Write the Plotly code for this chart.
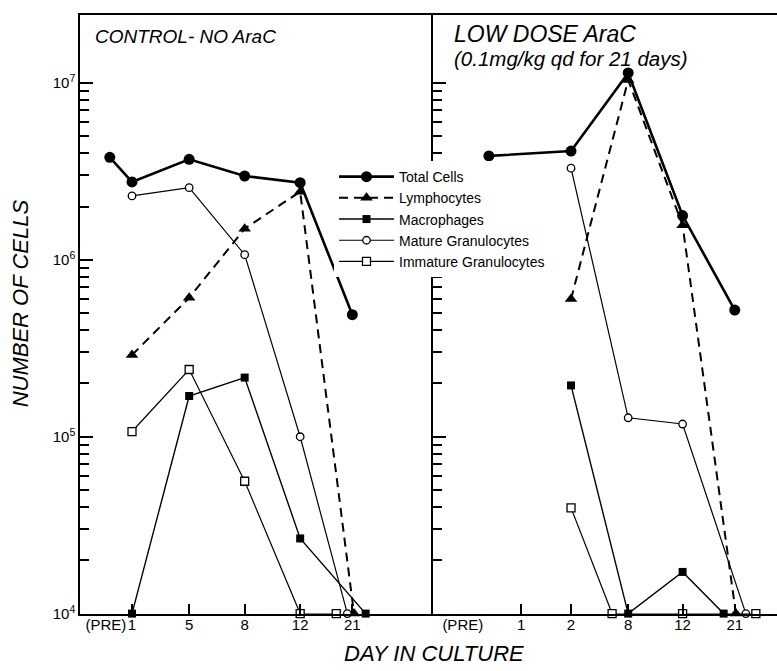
import plotly.graph_objects as go

# ---------------- data ----------------
DAYS_LEFT = ["PRE", "1", "5", "8", "12", "21"]
LEFT_TOTAL = [3.8e6, 2.76e6, 3.7e6, 2.98e6, 2.73e6, 4.9e5]
LEFT_LYMPH = [None, 2.9e5, 6.1e5, 1.5e6, 2.43e6, 1e4]
LEFT_MACRO = [None, 1e4, 1.7e5, 2.16e5, 2.66e4, 1e4]
LEFT_MATURE = [None, 2.3e6, 2.56e6, 1.07e6, 1.0e5, 1e4]
LEFT_IMMATURE = [None, 1.07e5, 2.4e5, 5.6e4, 1e4, 1e4]

DAYS_RIGHT = ["PRE", "1", "2", "8", "12", "21"]
RIGHT_TOTAL = [3.87e6, None, 4.12e6, 1.14e7, 1.78e6, 5.2e5]
RIGHT_LYMPH = [None, None, 6.0e5, 1.04e7, 1.57e6, 1e4]
RIGHT_MACRO = [None, None, 1.95e5, 1e4, 1.72e4, 1e4]
RIGHT_MATURE = [None, None, 3.3e6, 1.28e5, 1.18e5, 1e4]
RIGHT_IMMATURE = [None, None, 3.96e4, 1e4, 1e4, 1e4]

TICK_LABELS_LEFT = ["(PRE)", "1", "5", "8", "12", "21"]
TICK_LABELS_RIGHT = ["(PRE)", "1", "2", "8", "12", "21"]

SERIES_NAMES = ["Total Cells", "Lymphocytes", "Macrophages",
                "Mature Granulocytes", "Immature Granulocytes"]

# ---------------- scale / style ----------------
# non-linear day axis: slot position of each day label
POS_LEFT = {"PRE": 0.53, "1": 1.0, "5": 2.03, "8": 3.03, "12": 4.03, "21": 4.97}
POS_RIGHT = {"PRE": 0.60, "1": 1.65, "2": 2.55, "8": 3.58, "12": 4.56, "21": 5.50}
# small horizontal offsets used in the original to separate coinciding points
SHIFT_LEFT = {0: {"PRE": 0.07}, 1: {"21": 0.03}, 2: {"21": 0.24},
              3: {"21": -0.09}, 4: {"21": -0.29}}
SHIFT_RIGHT = {0: {"PRE": 0.47}, 1: {"21": 0.02}, 2: {"21": -0.20},
               3: {"21": 0.20}, 4: {"8": -0.29, "21": 0.38}}

STYLES = [
    dict(line=dict(color="black", width=2.6),
         marker=dict(symbol="circle", size=11, color="black")),
    dict(line=dict(color="black", width=2.0, dash="9px,6px"),
         marker=dict(symbol="triangle-up", size=11, color="black")),
    dict(line=dict(color="black", width=1.4),
         marker=dict(symbol="square", size=8, color="black")),
    dict(line=dict(color="black", width=1.2),
         marker=dict(symbol="circle", size=7.5, color="white",
                     line=dict(color="black", width=1.3))),
    dict(line=dict(color="black", width=1.2),
         marker=dict(symbol="square", size=8, color="white",
                     line=dict(color="black", width=1.3))),
]

FONT = "Liberation Sans"
W, H = 777, 671
X0, XM, X1 = 80, 433, 777          # panel edges (px)
YT, YB = 15, 621                   # plot top / bottom (px)
UNIT = 55.5                        # px per slot unit

fig = go.Figure()

def add_panel(days, series, pos, shift, xa, ya, legend):
    for i, vals in enumerate(series):
        xs, ys = [], []
        for d, v in zip(days, vals):
            if v is None:
                continue
            xs.append(pos[d] + shift.get(i, {}).get(d, 0.0))
            ys.append(v)
        fig.add_trace(go.Scatter(
            x=xs, y=ys, mode="lines+markers", name=SERIES_NAMES[i],
            xaxis=xa, yaxis=ya, showlegend=legend, cliponaxis=False,
            **STYLES[i]))

add_panel(DAYS_LEFT, [LEFT_TOTAL, LEFT_LYMPH, LEFT_MACRO, LEFT_MATURE, LEFT_IMMATURE],
          POS_LEFT, SHIFT_LEFT, "x", "y", True)
add_panel(DAYS_RIGHT, [RIGHT_TOTAL, RIGHT_LYMPH, RIGHT_MACRO, RIGHT_MATURE, RIGHT_IMMATURE],
          POS_RIGHT, SHIFT_RIGHT, "x2", "y2", False)

# empty traces so that the overlay axes (day labels / minor ticks) are drawn
for xa, ya in [("x3", "y"), ("x4", "y2"), ("x", "y3"), ("x2", "y4")]:
    fig.add_trace(go.Scatter(x=[], y=[], xaxis=xa, yaxis=ya, mode="markers",
                             showlegend=False, hoverinfo="skip"))

x_lo = 0.063
left_range = [x_lo, x_lo + (XM - X0) / UNIT]
right_range = [x_lo, x_lo + (X1 - XM) / UNIT]
xdom_l = [X0 / W, XM / W]
xdom_r = [XM / W, 1.0]
ydom = [(H - YB) / H, (H - YT) / H]
yrange = [4, 4 + (YB - YT) / 179.0]

MAJOR = [1e4, 1e5, 1e6, 1e7]
MAJOR_TEXT = ["10<sup>4</sup>", "10<sup>5</sup>", "10<sup>6</sup>", "10<sup>7</sup>"]
MINOR = [m * d for d in MAJOR[:-1] for m in range(2, 10)]

tickfont = dict(family=FONT, size=15, color="black")
base = dict(showgrid=False, zeroline=False, tickfont=tickfont,
            tickcolor="black", tickwidth=1.5)

fig.update_layout(
    width=W, height=H,
    margin=dict(l=0, r=0, t=0, b=0),
    paper_bgcolor="white", plot_bgcolor="white",
    font=dict(family=FONT, color="black"),
    # main x axes: frame lines + tick marks (no tick at PRE)
    xaxis=dict(domain=xdom_l, range=left_range, anchor="y",
               tickvals=[POS_LEFT[d] for d in DAYS_LEFT[1:]],
               showticklabels=False, ticks="inside", ticklen=10,
               showline=True, linecolor="black", linewidth=1.5, mirror=True, **base),
    xaxis2=dict(domain=xdom_r, range=right_range, anchor="y2",
                tickvals=[POS_RIGHT[d] for d in DAYS_RIGHT[1:]],
                showticklabels=False, ticks="inside", ticklen=10,
                showline=True, linecolor="black", linewidth=1.5, mirror=True, **base),
    # overlay x axes: day labels
    xaxis3=dict(overlaying="x", range=left_range, anchor="y", side="bottom",
                tickvals=[POS_LEFT[d] for d in DAYS_LEFT],
                ticktext=TICK_LABELS_LEFT, ticks="", tickangle=0,
                showline=False, **base),
    xaxis4=dict(overlaying="x2", range=right_range, anchor="y2", side="bottom",
                tickvals=[POS_RIGHT[d] for d in DAYS_RIGHT],
                ticktext=TICK_LABELS_RIGHT, ticks="", tickangle=0,
                showline=False, **base),
    # main y axes: decades
    yaxis=dict(type="log", domain=ydom, range=yrange, anchor="x",
               tickvals=MAJOR, ticktext=MAJOR_TEXT, ticks="inside", ticklen=13,
               showline=True, linecolor="black", linewidth=1.5, **base),
    yaxis2=dict(type="log", domain=ydom, range=yrange, anchor="x2",
                tickvals=MAJOR, showticklabels=False, ticks="inside", ticklen=13,
                showline=True, linecolor="black", linewidth=1.5, **base),
    # overlay y axes: minor ticks
    yaxis3=dict(type="log", overlaying="y", range=yrange, anchor="x", side="left",
                tickvals=MINOR, showticklabels=False, ticks="inside", ticklen=9,
                showline=False, **base),
    yaxis4=dict(type="log", overlaying="y2", range=yrange, anchor="x2", side="left",
                tickvals=MINOR, showticklabels=False, ticks="inside", ticklen=9,
                showline=False, **base),
    legend=dict(x=334 / W, y=1 - 163 / H, xanchor="left", yanchor="top",
                bgcolor="white", borderwidth=0, itemwidth=55,
                font=dict(family=FONT, size=14, color="black"),
                tracegroupgap=0),
    showlegend=True,
)

def note(text, x, y, size, angle=0, anchor="left"):
    fig.add_annotation(text=text, xref="paper", yref="paper",
                       x=x / W, y=1 - y / H, xanchor=anchor, yanchor="middle",
                       textangle=angle, showarrow=False,
                       font=dict(family=FONT, size=size, color="black"))

note("<i>CONTROL- NO AraC</i>", 93, 37, 19)
note("<i>LOW DOSE AraC</i>", 452, 34, 23)
note("<i>(0.1mg/kg qd for 21 days)</i>", 452, 59, 20.5)
note("<i>DAY IN CULTURE</i>", 434, 661, 22, anchor="center")
note("<i>NUMBER OF CELLS</i>", 20, 307, 22, angle=-90, anchor="center")

fig.write_html("out.html")
